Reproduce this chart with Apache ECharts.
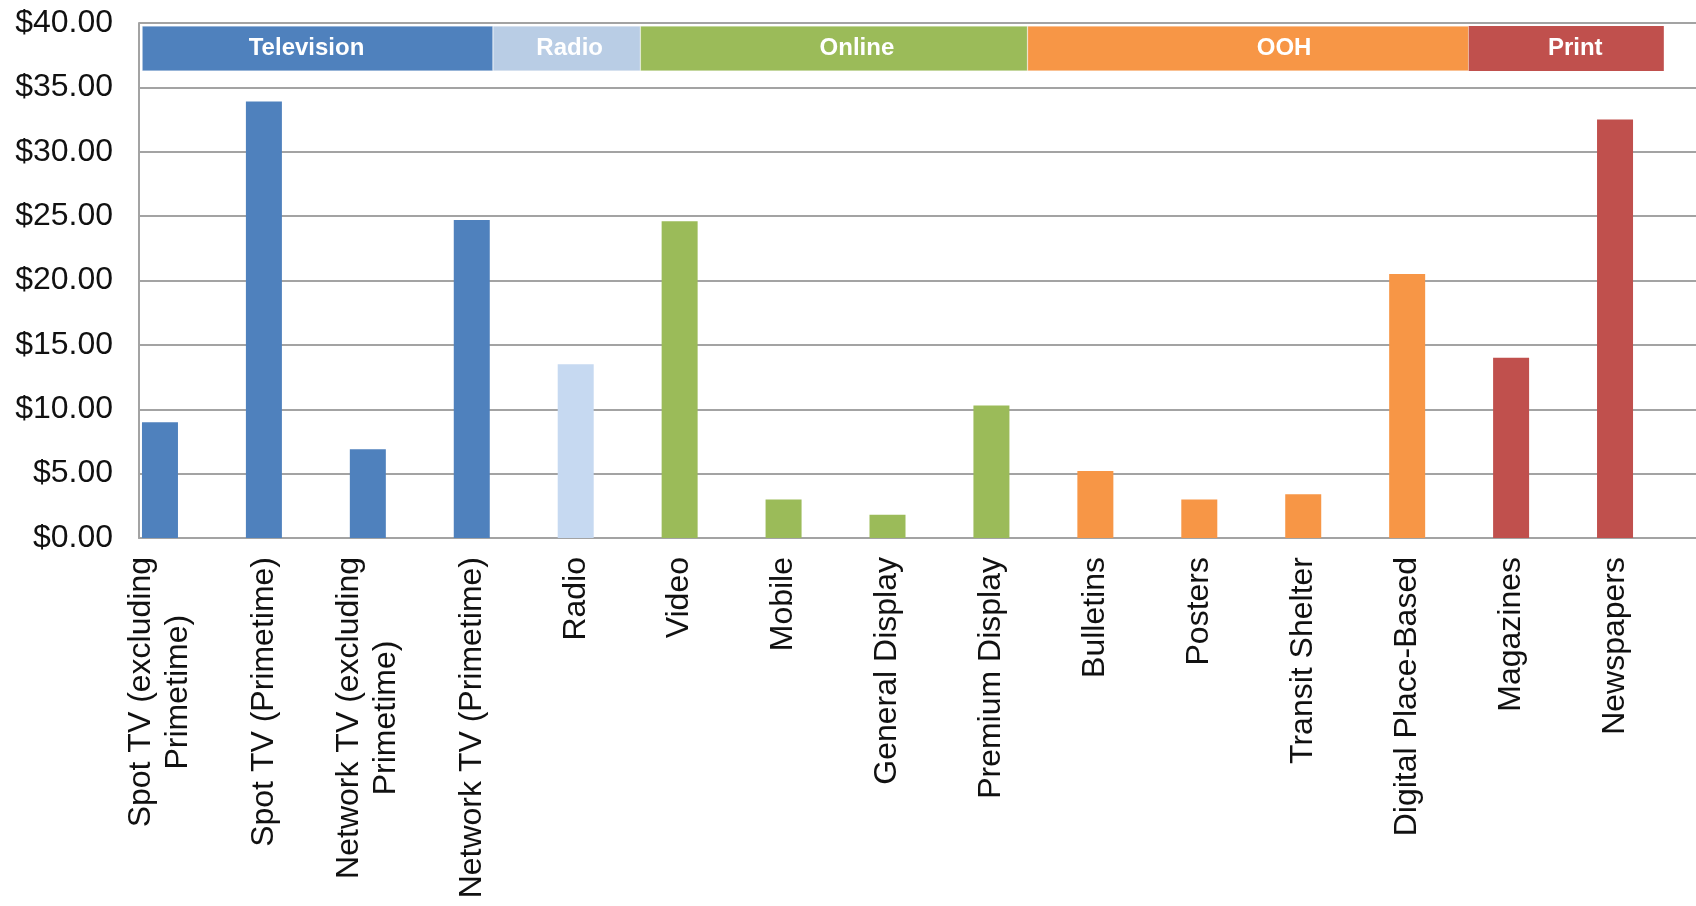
<!DOCTYPE html>
<html>
<head>
<meta charset="utf-8">
<style>
  html, body { margin: 0; padding: 0; background: #ffffff; }
  #chart { width: 1696px; height: 906px; }
</style>
<script src="https://cdn.jsdelivr.net/npm/echarts@6/dist/echarts.min.js"></script>
</head>
<body>
<div id="chart"></div>
<script>
// ---- Data ----
const categories = [
  'Spot TV (excluding\nPrimetime)',
  'Spot TV (Primetime)',
  'Network TV (excluding\nPrimetime)',
  'Network TV (Primetime)',
  'Radio',
  'Video',
  'Mobile',
  'General Display',
  'Premium Display',
  'Bulletins',
  'Posters',
  'Transit Shelter',
  'Digital Place-Based',
  'Magazines',
  'Newspapers'
];
const values = [9.0, 33.9, 6.9, 24.7, 13.5, 24.6, 3.0, 1.8, 10.3, 5.2, 3.0, 3.4, 20.5, 14.0, 32.5];
// group index of each category (0 Television, 1 Radio, 2 Online, 3 OOH, 4 Print)
const categoryGroup = [0, 0, 0, 0, 1, 2, 2, 2, 2, 3, 3, 3, 3, 4, 4];

const groupNames = ['Television', 'Radio', 'Online', 'OOH', 'Print'];
// header band extents, measured in category-width units from the left of the plot frame
const headerStart = 0.03;
const headerEnds = [3.41, 4.83, 8.56, 12.81, 14.69];

const yTicks = { min: 0, max: 40, interval: 5 };

// ---- Styles ----
const barColors = ['#4F81BD', '#C6D9F1', '#9BBB59', '#F79646', '#C0504D'];
const headerColors = ['#4F81BD', '#B9CDE5', '#9BBB59', '#F79646', '#C0504D'];
const headerLabelShift = [-11, 3, 23, 36, 9]; // horizontal nudge of header texts (px)
const FONT = "'Liberation Sans', Arial, sans-serif";
const GRID_COLOR = '#a3a3a3';

const chart = echarts.init(document.getElementById('chart'), null, { renderer: 'canvas' });

// header stacked segments
const headerSeries = [];
headerSeries.push({
  type: 'bar', xAxisIndex: 2, yAxisIndex: 2, stack: 'hdr',
  data: [headerStart], itemStyle: { color: 'transparent' },
  barWidth: '100%', silent: true
});
let prev = headerStart;
groupNames.forEach((g, i) => {
  headerSeries.push({
    type: 'bar', xAxisIndex: 2, yAxisIndex: 2, stack: 'hdr', name: g,
    data: [headerEnds[i] - prev],
    barWidth: '100%',
    itemStyle: { color: headerColors[i], borderColor: 'rgba(255,255,255,0.6)', borderWidth: i < groupNames.length - 1 ? 0.5 : 0 },
    label: {
      show: true, position: 'inside', formatter: g, offset: [headerLabelShift[i], 0],
      color: '#ffffff', fontFamily: FONT, fontWeight: 'bold', fontSize: 24
    }
  });
  prev = headerEnds[i];
});

const option = {
  backgroundColor: '#ffffff',
  animation: false,
  grid: [
    // plot frame: value axis, gridlines, axis lines
    { left: 139, right: 0, top: 23, height: 515, containLabel: false },
    // bars and category labels
    { left: 108, right: 29, top: 23, height: 515, containLabel: false },
    // header band
    { left: 139, right: 0, top: 26, height: 45, containLabel: false }
  ],
  xAxis: [
    {
      type: 'value', gridIndex: 0, min: 0, max: 1,
      axisLine: { show: true, onZero: false, lineStyle: { color: GRID_COLOR, width: 2 } },
      axisTick: { show: false }, axisLabel: { show: false }, splitLine: { show: false }
    },
    {
      type: 'category', gridIndex: 1, data: categories,
      axisLine: { show: false },
      axisTick: { show: false },
      axisLabel: {
        interval: 0, rotate: 90, margin: 19, color: '#111111',
        formatter: function (v) {
          return v.split('\n').map(s => '{c|' + s + '}').join('\n');
        },
        rich: { c: { align: 'center', fontFamily: FONT, fontSize: 32, lineHeight: 37, color: '#111111' } }
      },
      splitLine: { show: false }
    },
    {
      type: 'value', gridIndex: 2, min: 0, max: categories.length,
      show: false
    }
  ],
  yAxis: [
    {
      type: 'value', gridIndex: 0, min: yTicks.min, max: yTicks.max, interval: yTicks.interval,
      axisLine: { show: true, lineStyle: { color: GRID_COLOR, width: 2 } },
      axisTick: { show: false },
      axisLabel: {
        margin: 26, color: '#111111', fontFamily: FONT, fontSize: 32,
        formatter: v => '$' + v.toFixed(2)
      },
      splitLine: { show: true, lineStyle: { color: GRID_COLOR, width: 2 } }
    },
    {
      type: 'value', gridIndex: 1, min: yTicks.min, max: yTicks.max, interval: yTicks.interval,
      show: false, splitLine: { show: false }
    },
    {
      type: 'category', gridIndex: 2, data: ['hdr'], show: false
    }
  ],
  series: [
    {
      type: 'bar', xAxisIndex: 1, yAxisIndex: 1, name: 'Cost',
      barWidth: 36,
      data: values.map((v, i) => ({ value: v, itemStyle: { color: barColors[categoryGroup[i]] } }))
    }
  ].concat(headerSeries)
};

chart.setOption(option);
</script>
</body>
</html>
